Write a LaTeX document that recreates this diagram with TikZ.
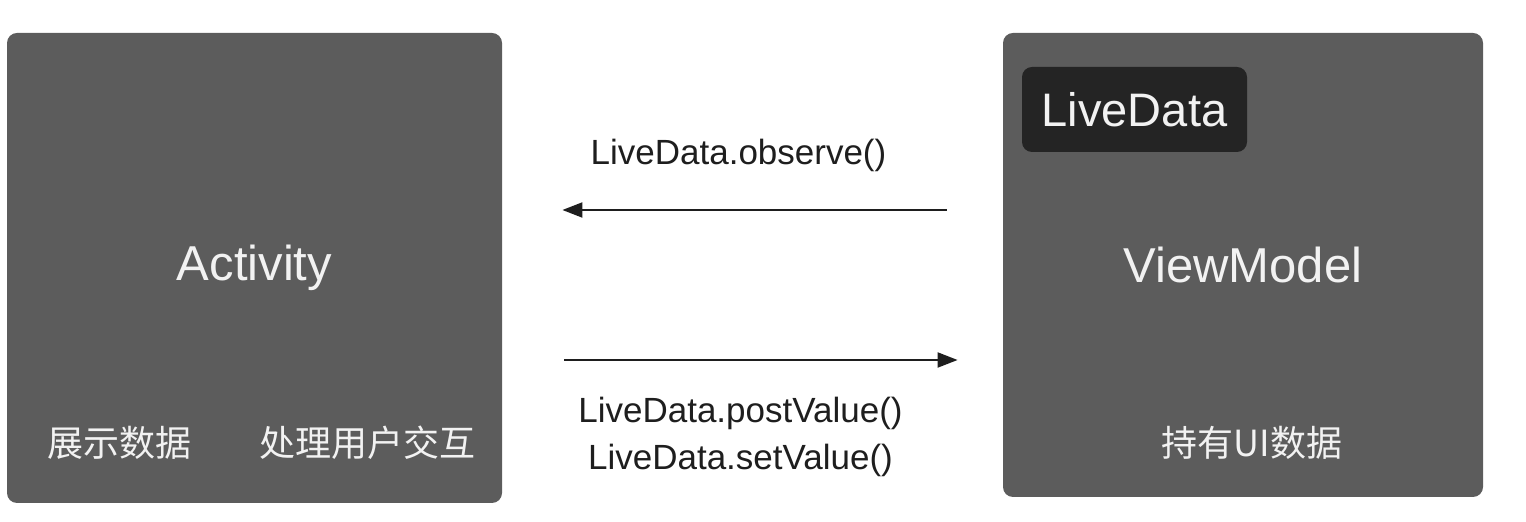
\documentclass[tikz,border=0pt]{standalone}
\usepackage{fontspec}
\setmainfont{Liberation Sans}
\newfontfamily\cjk{Noto Sans CJK SC}
\usepackage{tikz}
\usetikzlibrary{arrows.meta,calc,positioning}
\definecolor{panelgray}{RGB}{92,92,92}
\definecolor{tagdark}{RGB}{36,36,36}
\definecolor{txtwhite}{RGB}{242,242,242}
\definecolor{txtdark}{RGB}{30,30,30}

\begin{document}
\begin{tikzpicture}[x=0.5pt, y=-0.5pt,
	panel/.style={fill=panelgray, rounded corners=5pt, text=txtwhite, font=\fontsize{24.5}{28}\selectfont},
	tag/.style={fill=tagdark, rounded corners=5pt, text=txtwhite, anchor=north west, minimum width=112.5pt, minimum height=42.5pt, font=\fontsize{23.5}{28}\selectfont},
	note/.style={text=txtwhite, font=\cjk\fontsize{18}{22}\selectfont},
	call/.style={text=txtdark, anchor=base, font=\fontsize{17.5}{21}\selectfont}]
	\useasboundingbox (0,0) rectangle (1526,522);

	\node[panel, minimum width=247.5pt, minimum height=235pt] (act) at (254.5,268) {Activity};
	\node[panel, minimum width=240pt, minimum height=232pt] (vm) at (1243,265) {ViewModel};
	\node[tag] (ld) at ([xshift=9.5pt, yshift=-17pt]vm.north west) {LiveData};

	\node[note] (show) at ([xshift=56.5pt, yshift=30.5pt]act.south west) {展示数据};
	\node[note] (user) at ([xshift=-67.5pt, yshift=30.5pt]act.south east) {处理用户交互};
	\node[note] (hold) at ([xshift=4.5pt, yshift=27.5pt]vm.south) {持有UI数据};

	\coordinate (obs) at ([yshift=27.5pt]vm.west);
	\coordinate (post) at ([yshift=-47.5pt]act.east |- vm.west);

	\begin{scope}[every path/.style={-{Triangle[length=10pt, width=7.5pt]}, line width=1pt, draw=txtdark}]
		\draw[shorten <=28pt, shorten >=30pt] (obs) -- node[call, yshift=22.5pt, xshift=-7pt] (obslbl) {LiveData.observe()} (obs -| act.east);
		\draw[shorten <=31pt, shorten >=22.5pt] (post) -- node[call, yshift=-31.5pt, xshift=-6pt] (postlbl) {LiveData.postValue()} (post -| vm.west);
	\end{scope}
	\node[call] (setlbl) at ([yshift=-23.5pt]postlbl.base) {LiveData.setValue()};

\end{tikzpicture}
\end{document}
